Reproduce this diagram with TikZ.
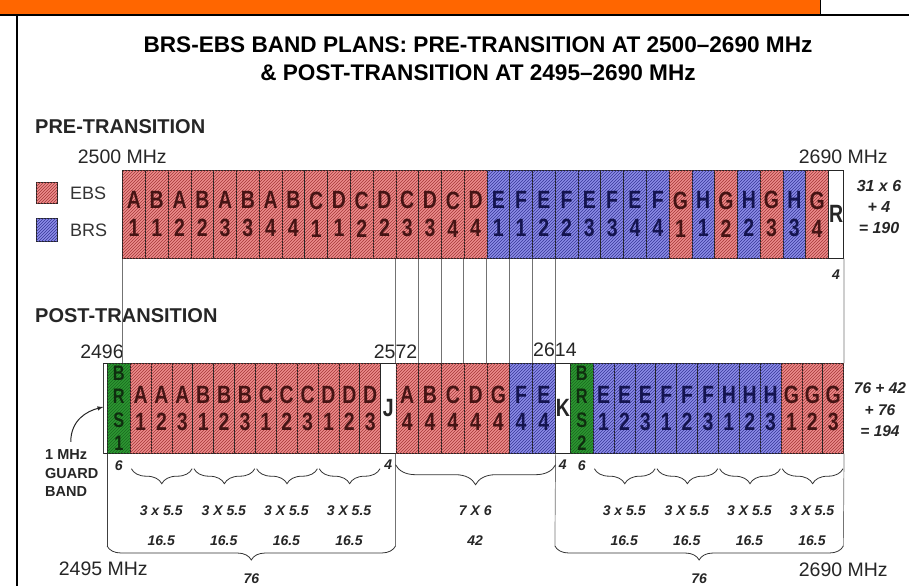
\documentclass[tikz,border=0pt]{standalone}
\usepackage{fontspec}
\setmainfont{Liberation Sans}
\newfontfamily\cellfont{Liberation Sans}[FakeStretch=0.78]
\usetikzlibrary{patterns,positioning,decorations.pathreplacing}

\definecolor{ebsfill}{RGB}{236,140,140}
\definecolor{ebsline}{RGB}{165,55,55}
\definecolor{ebstext}{RGB}{70,20,20}
\definecolor{brsfill}{RGB}{140,140,232}
\definecolor{brsline}{RGB}{55,55,150}
\definecolor{brstext}{RGB}{20,20,80}
\definecolor{grnfill}{RGB}{45,150,50}
\definecolor{grnline}{RGB}{25,105,30}
\definecolor{grntext}{RGB}{15,45,15}
\definecolor{barorange}{RGB}{255,102,0}

\tikzset{
  bandcell/.style={draw=black!85, line width=0.7pt, inner sep=0pt, anchor=north west,
    align=center, font=\cellfont\bfseries\fontsize{25}{28}\selectfont},
  ebs/.style={bandcell, fill=ebsfill, postaction={pattern=north east lines, pattern color=ebsline}, text=ebstext},
  brs/.style={bandcell, fill=brsfill, postaction={pattern=north east lines, pattern color=brsline}, text=brstext},
  brsgrn/.style={bandcell, fill=grnfill, postaction={pattern=north east lines, pattern color=grnline}, text=grntext},
  blank/.style={bandcell, fill=white, text=black!85},
  lab/.style={font=\fontsize{19.5}{20}\selectfont, text=black!85},
  head/.style={font=\bfseries\fontsize{20}{24}\selectfont, text=black!85, anchor=west, inner sep=0pt},
  num/.style={font=\bfseries\itshape\fontsize{14}{21}\selectfont, text=black!85, align=center},
  conn/.style={draw=black!55, line width=0.7pt},
  bigbrace/.style={draw=black!80, line width=0.8pt, decorate, decoration={brace, mirror, amplitude=14pt}},
  smallbrace/.style={draw=black!80, line width=0.8pt, decorate, decoration={brace, mirror, amplitude=15pt}}
}

\begin{document}
\begin{tikzpicture}[x=1pt, y=-1pt, declare function={fx(\f)=103.3+3.795*(\f-2495);}]
    \useasboundingbox (0,0) rectangle (909,586);

    % page frame
    \fill[barorange] (0,0) rectangle (820,14);
    \draw[line width=2.5pt] (0,15) -- (909,15);
    \draw[line width=1pt] (820,0) -- (820,15);
    \draw[line width=1.5pt] (17,15) -- (17,586);

    % title
    \node[font=\bfseries\fontsize{22.6}{28}\selectfont, align=center] (title) at (478,59)
        {BRS-EBS BAND PLANS: PRE-TRANSITION AT 2500--2690 MHz\\\& POST-TRANSITION AT 2495--2690 MHz};

    % pre-transition band
    \node[head] (prehead) at (35,127) {PRE-TRANSITION};
    \node[lab] (f2500) at ({fx(2500)},157) {2500 MHz};
    \node[lab] (f2690) at ({fx(2690)},157) {2690 MHz};

    \node[ebs, minimum width=21pt, minimum height=21pt] (kebs) at (36,182) {};
    \node[brs, minimum width=21pt, minimum height=23pt] (kbrs) at (36,218) {};
    \node[right=9pt of kebs, font=\fontsize{18}{20}\selectfont, text=black!80] (tebs) {EBS};
    \node[right=9pt of kbrs, font=\fontsize{18}{20}\selectfont, text=black!80] (tbrs) {BRS};

    \foreach \l/\d/\s [count=\i from 0] in {A/1/ebs,B/1/ebs,A/2/ebs,B/2/ebs,A/3/ebs,B/3/ebs,A/4/ebs,B/4/ebs,
        C/1/ebs,D/1/ebs,C/2/ebs,D/2/ebs,C/3/ebs,D/3/ebs,C/4/ebs,D/4/ebs,
        E/1/brs,F/1/brs,E/2/brs,F/2/brs,E/3/brs,F/3/brs,E/4/brs,F/4/brs,
        G/1/ebs,H/1/brs,G/2/ebs,H/2/brs,G/3/ebs,H/3/brs,G/4/ebs}
        \node[\s, minimum width=22.77pt, minimum height=88pt] (pre\i) at ({fx(2500+6*\i)},170) {\l\\\d};
    \node[blank, minimum width=15.18pt, minimum height=88pt] (preR) at ({fx(2686)},170) {R};
    \node[num] (preRw) at (preR.center |- 0,275) {4};
    \node[num, font=\bfseries\itshape\fontsize{16}{21}\selectfont] (pretot) at (879,207) {31 x 6\\+ 4\\= 190};

    % post-transition band
    \node[head] (posthead) at (35,316) {POST-TRANSITION};
    \node[lab] (f2496) at (102,352) {2496};
    \node[lab] (f2572) at ({fx(2572)},352) {2572};
    \node[lab] (f2614) at ({fx(2614)},350) {2614};

    \node[blank, minimum width=3.795pt, minimum height=90pt] (gb) at ({fx(2495)},363) {};
    \node[brsgrn, minimum width=22.77pt, minimum height=90pt,
        font=\cellfont\bfseries\fontsize{21}{23.5}\selectfont] (brs1) at ({fx(2496)},363) {B\\R\\S\\1};
    \foreach \l/\d [count=\i from 0] in {A/1,A/2,A/3,B/1,B/2,B/3,C/1,C/2,C/3,D/1,D/2,D/3}
        \node[ebs, minimum width=20.87pt, minimum height=90pt,
            font=\cellfont\bfseries\fontsize{25}{27}\selectfont] (pa\i) at ({fx(2502+5.5*\i)},363) {\l\\\d};
    \node[blank, minimum width=15.18pt, minimum height=90pt] (J) at ({fx(2568)},363) {J};
    \foreach \l/\s [count=\i from 0] in {A/ebs,B/ebs,C/ebs,D/ebs,G/ebs,F/brs,E/brs}
        \node[\s, minimum width=22.77pt, minimum height=90pt,
            font=\cellfont\bfseries\fontsize{25}{27}\selectfont] (pm\i) at ({fx(2572+6*\i)},363) {\l\\4};
    \node[blank, minimum width=15.18pt, minimum height=90pt] (K) at ({fx(2614)},363) {K};
    \node[brsgrn, minimum width=22.77pt, minimum height=90pt,
        font=\cellfont\bfseries\fontsize{21}{23.5}\selectfont] (brs2) at ({fx(2618)},363) {B\\R\\S\\2};
    \foreach \l/\d/\s [count=\i from 0] in {E/1/brs,E/2/brs,E/3/brs,F/1/brs,F/2/brs,F/3/brs,
        H/1/brs,H/2/brs,H/3/brs,G/1/ebs,G/2/ebs,G/3/ebs}
        \node[\s, minimum width=20.87pt, minimum height=90pt,
            font=\cellfont\bfseries\fontsize{25}{27}\selectfont] (pr\i) at ({fx(2624+5.5*\i)},363) {\l\\\d};
    \node[num, font=\bfseries\itshape\fontsize{15.5}{21.5}\selectfont] (posttot) at (880,410) {76 + 42\\+ 76\\= 194};

    % widths under the post band
    \node[num] (w1) at (brs1.center |- 0,466) {6};
    \node[num] (w2) at (J.center |- 0,465) {4};
    \node[num] (w3) at (K.center |- 0,465) {4};
    \node[num] (w4) at (brs2.center |- 0,466) {6};

    % guard band note
    \node[font=\bfseries\fontsize{14.5}{18.5}\selectfont, text=black!85, align=left,
        anchor=north west, inner sep=0pt] (guard) at (45,449.8) {1 MHz\\GUARD\\BAND};
    \coordinate (gbl) at ({fx(2495)},407);
    \draw[-latex, line width=1pt, black!85] ([xshift=-1pt,yshift=8pt]guard.north) .. controls +(0,-22) and +(-16,4) .. (gbl);

    % lines from the old plan down to the new one
    \draw[conn] (pre0.south west) -- (pre0.south west |- brs1.north);
    \foreach \k in {12,...,19}
        \draw[conn] (pre\k.south west) -- (pre\k.south west |- pm0.north);
    \draw[conn] (preR.south east) -- (pr11.north east);

    % braces
    \coordinate (bl0) at ({fx(2496)},546);
    \coordinate (bl1) at ({fx(2572)},546);
    \coordinate (br0) at ({fx(2614)},546);
    \coordinate (br1) at ({fx(2690)},546);
    \draw[conn, black!75] (gb.south west) -- ++(0,-90);
    \draw[conn, black!75] (brs1.south west) -- (bl0);
    \draw[conn] (pm0.south west) -- (bl1);
    \draw[conn] (pm6.south east) -- (br0);
    \draw[conn] (pr11.south east) -- (br1);
    \draw[bigbrace] (bl0) -- (bl1);
    \draw[bigbrace] (br0) -- (br1);
    \draw[smallbrace, decoration={amplitude=20pt}] ([yshift=-11pt]pm0.south west) -- ([yshift=-11pt]pm6.south east);
    \foreach \i [evaluate=\i as \j using int(\i+2)] in {0,3,6,9} {
        \draw[smallbrace] ([xshift=1.5pt,yshift=-15pt]pa\i.south west) -- ([xshift=-1pt,yshift=-15pt]pa\j.south east);
        \draw[smallbrace] ([xshift=1.5pt,yshift=-15pt]pr\i.south west) -- ([xshift=-1pt,yshift=-15pt]pr\j.south east);
    }

    % sizes
    \foreach \t [count=\i from 0] in {3 x 5.5,3 X 5.5,3 X 5.5,3 X 5.5} {
        \node[num] (ls\i) at ({fx(2510.25+16.5*\i)},511) {\t};
        \node[num] (lt\i) at ({fx(2510.25+16.5*\i)},541) {16.5};
        \node[num] (rs\i) at ({fx(2632.25+16.5*\i)},511) {\t};
        \node[num] (rt\i) at ({fx(2632.25+16.5*\i)},541) {16.5};
    }
    \node[num] (ms) at ({fx(2593)},511) {7 X 6};
    \node[num] (mt) at ({fx(2593)},541) {42};
    \node[num] (lsum) at ({fx(2534)},579) {76};
    \node[num] (rsum) at ({fx(2652)},579) {76};
    \node[lab] (f2495) at ({fx(2495)},569) {2495 MHz};
    \node[lab] (f2690b) at ({fx(2690)},570) {2690 MHz};
\end{tikzpicture}
\end{document}
